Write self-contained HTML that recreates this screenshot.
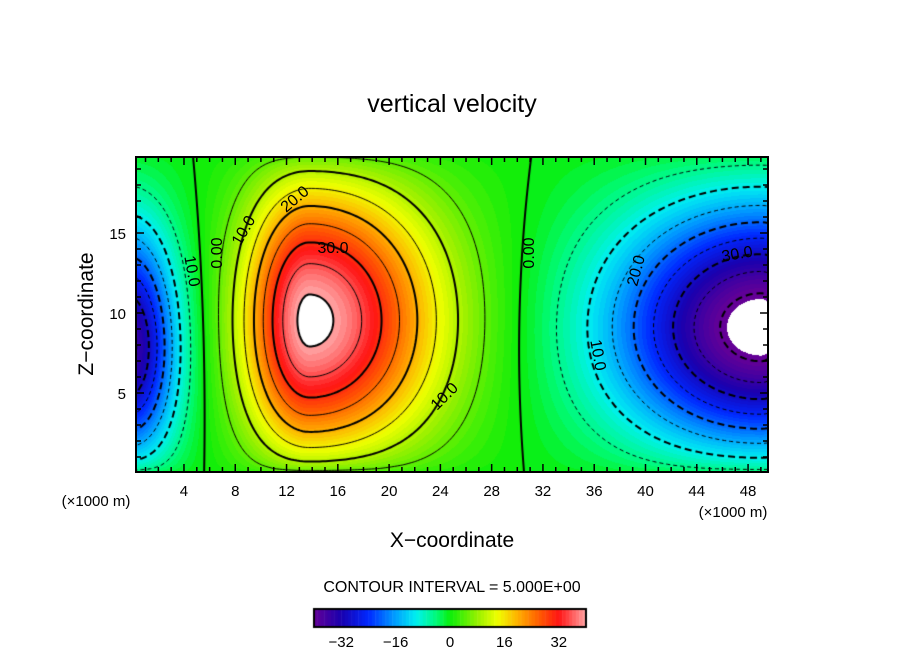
<!DOCTYPE html>
<html><head><meta charset="utf-8">
<style>
html,body{margin:0;padding:0;background:#fff;}
#wrap{position:relative;width:904px;height:654px;overflow:hidden;font-family:"Liberation Sans",sans-serif;}
canvas{position:absolute;left:0;top:0;}
svg{position:absolute;left:0;top:0;}
</style></head>
<body>
<div id="wrap">
<canvas id="cv" width="904" height="654"></canvas>
<svg id="sv" width="904" height="654"></svg>
</div>
<script>
// ---- data ----
const blobX   = [13.8, 49.0, -0.3];
const blobZ   = [9.3, 8.8, 7.2];
const blobAmp = [41.5, -43.5, -37];
const blobSxL = [3.6, 8.0, 3.0];
const blobSxR = [7.0, 3.8, 2.6];
const blobSz  = [7.5, 6.2, 6.0];
const xTicks = [4,8,12,16,20,24,28,32,36,40,44,48];
const zTicks = [5,10,15];
const cbTicks = [-32,-16,0,16,32];
const levels = [-45,-40,-35,-30,-25,-20,-15,-10,-5,0,5,10,15,20,25,30,35,40,45];
const cmapV = [-40,-32,-24,-16,-10,-4,0,8,14,20,26,32,40];
const cmapC = [[100,0,150],[25,0,175],[0,40,255],[0,160,255],[0,240,240],[0,250,120],[10,238,10],[150,240,0],[240,255,0],[255,175,0],[255,95,0],[255,20,20],[255,165,165]];

// ---- axes ----
const PL=136,PR=768,PT=157,PB=472;
const X = v => 132.7 + v*12.82;
const Z = v => 473 - v*16;
const IX = p => (p-132.7)/12.82;
const IZ = p => (473-p)/16;
const CB = v => 450 + v*3.4;

function field(x,z){
  let s=0;
  for(let i=0;i<blobX.length;i++){
    const dx=x-blobX[i], sx=dx<0?blobSxL[i]:blobSxR[i];
    const dz=z-blobZ[i];
    s+=blobAmp[i]*Math.exp(-dx*dx/(2*sx*sx)-dz*dz/(2*blobSz[i]*blobSz[i]));
  }
  const e=Math.pow(Math.max(Math.sin(Math.PI*z/20),0),0.35);
  return s*e;
}
function color(v){
  if(v>40||v<-41) return [255,255,255];
  v=Math.floor(v)+0.5;
  if(v<=cmapV[0]) return cmapC[0];
  for(let i=1;i<cmapV.length;i++){
    if(v<=cmapV[i]){const t=(v-cmapV[i-1])/(cmapV[i]-cmapV[i-1]);
      const a=cmapC[i-1],b=cmapC[i];return [a[0]+(b[0]-a[0])*t,a[1]+(b[1]-a[1])*t,a[2]+(b[2]-a[2])*t].map(Math.round);}
  }
  return cmapC[cmapC.length-1];
}
const cv=document.getElementById('cv'),ctx=cv.getContext('2d');
const img=ctx.createImageData(PR-PL,PB-PT);
for(let py=PT;py<PB;py++)for(let px=PL;px<PR;px++){
  const c=color(field(IX(px+0.5),IZ(py+0.5)));
  const k=((py-PT)*(PR-PL)+(px-PL))*4;
  img.data[k]=c[0];img.data[k+1]=c[1];img.data[k+2]=c[2];img.data[k+3]=255;
}
ctx.putImageData(img,PL,PT);
// contours (marching squares + chaining)
const NX=220,NZ=90,x0=IX(PL),x1=IX(PR),z0=IZ(PB),z1=IZ(PT);
const G=[];for(let j=0;j<=NZ;j++){G[j]=[];for(let i=0;i<=NX;i++)G[j][i]=field(x0+(x1-x0)*i/NX,z0+(z1-z0)*j/NZ);}
const toPix=q=>[X(x0+(x1-x0)*q[0]/NX),Z(z0+(z1-z0)*q[1]/NZ)];
ctx.save();ctx.beginPath();ctx.rect(PL,PT,PR-PL,PB-PT);ctx.clip();
levels.forEach(L=>{
  const segs=[];
  for(let j=0;j<NZ;j++)for(let i=0;i<NX;i++){
    const v=[G[j][i],G[j][i+1],G[j+1][i+1],G[j+1][i]];
    const p=[[i,j],[i+1,j],[i+1,j+1],[i,j+1]];
    const pts=[];
    for(let e=0;e<4;e++){const a=v[e],b=v[(e+1)%4];
      if((a<L)!==(b<L)){const t=(L-a)/(b-a);const A=p[e],B=p[(e+1)%4];
        pts.push([A[0]+(B[0]-A[0])*t,A[1]+(B[1]-A[1])*t]);}}
    for(let k=0;k+1<pts.length;k+=2)segs.push([pts[k],pts[k+1]]);
  }
  const key=q=>q[0].toFixed(4)+','+q[1].toFixed(4);
  const map={};segs.forEach((s,i)=>{[0,1].forEach(e=>{const k=key(s[e]);(map[k]=map[k]||[]).push(i);});});
  const used=new Array(segs.length).fill(false);
  const lines=[];
  for(let i=0;i<segs.length;i++){
    if(used[i])continue;used[i]=true;
    const line=[segs[i][0],segs[i][1]];
    for(const dir of [1,0]){
      let cur=dir?line[line.length-1]:line[0];
      while(true){
        const cand=(map[key(cur)]||[]).find(c=>!used[c]);
        if(cand===undefined)break;used[cand]=true;
        const s=segs[cand];const nxt=key(s[0])===key(cur)?s[1]:s[0];
        if(dir)line.push(nxt);else line.unshift(nxt);cur=nxt;
      }
    }
    lines.push(line);
  }
  ctx.lineWidth=(L%10===0)?2:1;
  ctx.setLineDash(L<0?(L%10===0?[7,4]:[4,3]):[]);
  ctx.strokeStyle='#000';
  lines.forEach(line=>{ctx.beginPath();line.forEach((q,n)=>{const a=toPix(q);n?ctx.lineTo(a[0],a[1]):ctx.moveTo(a[0],a[1]);});ctx.stroke();});
});
ctx.restore();
ctx.setLineDash([]);
// colorbar
for(let v=-40;v<40;v++){const c=color(v+0.5);ctx.fillStyle='rgb('+c+')';ctx.fillRect(CB(v),609,3.4+0.5,18);}
ctx.strokeStyle='#000';ctx.lineWidth=2;ctx.strokeRect(CB(-40),609,CB(40)-CB(-40),18);

// ---- svg annotations ----
const sv=document.getElementById('sv');const NS='http://www.w3.org/2000/svg';
function el(tag,attrs,txt){const e=document.createElementNS(NS,tag);for(const k in attrs)e.setAttribute(k,attrs[k]);if(txt!==undefined)e.textContent=txt;sv.appendChild(e);return e;}
let e=el('rect',{x:PL,y:PT,width:PR-PL,height:PB-PT,fill:'none',stroke:'#000','stroke-width':2});


for(let v=1;v<50;v++){const big=v%4===0;const h=big?8:5;
  e=el('line',{x1:X(v),x2:X(v),y1:PB,y2:PB-h,stroke:'#000','stroke-width':1.5});
  
  
  e=el('line',{x1:X(v),x2:X(v),y1:PT,y2:PT+h,stroke:'#000','stroke-width':1.5});
  
  }
for(let v=1;v<20;v++){const big=v%5===0;const h=big?8:5;
  e=el('line',{x1:PL,x2:PL+h,y1:Z(v),y2:Z(v),stroke:'#000','stroke-width':1.5});
  
  
  e=el('line',{x1:PR,x2:PR-h,y1:Z(v),y2:Z(v),stroke:'#000','stroke-width':1.5});
  
  }
xTicks.forEach(v=>{e=el('text',{x:X(v),y:496,'font-size':15,'text-anchor':'middle'},String(v));
  
  });
zTicks.forEach(v=>{e=el('text',{x:126,y:Z(v)+6,'font-size':15,'text-anchor':'end'},String(v));
  
  });
cbTicks.forEach(v=>{e=el('text',{x:CB(v),y:647,'font-size':15,'text-anchor':'middle'},(v<0?'\u2212':'')+Math.abs(v));
  
  });
e=el('text',{x:452,y:112,'font-size':25,'text-anchor':'middle'},'vertical velocity');


e=el('text',{x:452,y:547,'font-size':21,'text-anchor':'middle'},'X\u2212coordinate');


e=el('text',{x:0,y:0,'font-size':21,'text-anchor':'middle',transform:'translate(93,314) rotate(-90)'},'Z\u2212coordinate');


e=el('text',{x:96,y:506,'font-size':15,'text-anchor':'middle'},'(\u00d71000 m)');


e=el('text',{x:733,y:517,'font-size':15,'text-anchor':'middle'},'(\u00d71000 m)');


e=el('text',{x:452,y:592,'font-size':16,'text-anchor':'middle'},'CONTOUR INTERVAL = 5.000E+00');


const labs=[[222,253,-90,'0.00'],[248,233,-60,'10.0'],[298,203,-40,'20.0'],[333,253,0,'30.0'],[187,272,80,'10.0'],[534,253,-90,'0.00'],[448,400,-45,'10.0'],[593,356,80,'10.0'],[641,272,-75,'20.0'],[738,259,-10,'30.0']];
labs.forEach(l=>{e=el('text',{x:0,y:0,'font-size':16,'text-anchor':'middle',transform:'translate('+l[0]+','+l[1]+') rotate('+l[2]+')'},l[3]);
  
  });
</script>
</body></html>
